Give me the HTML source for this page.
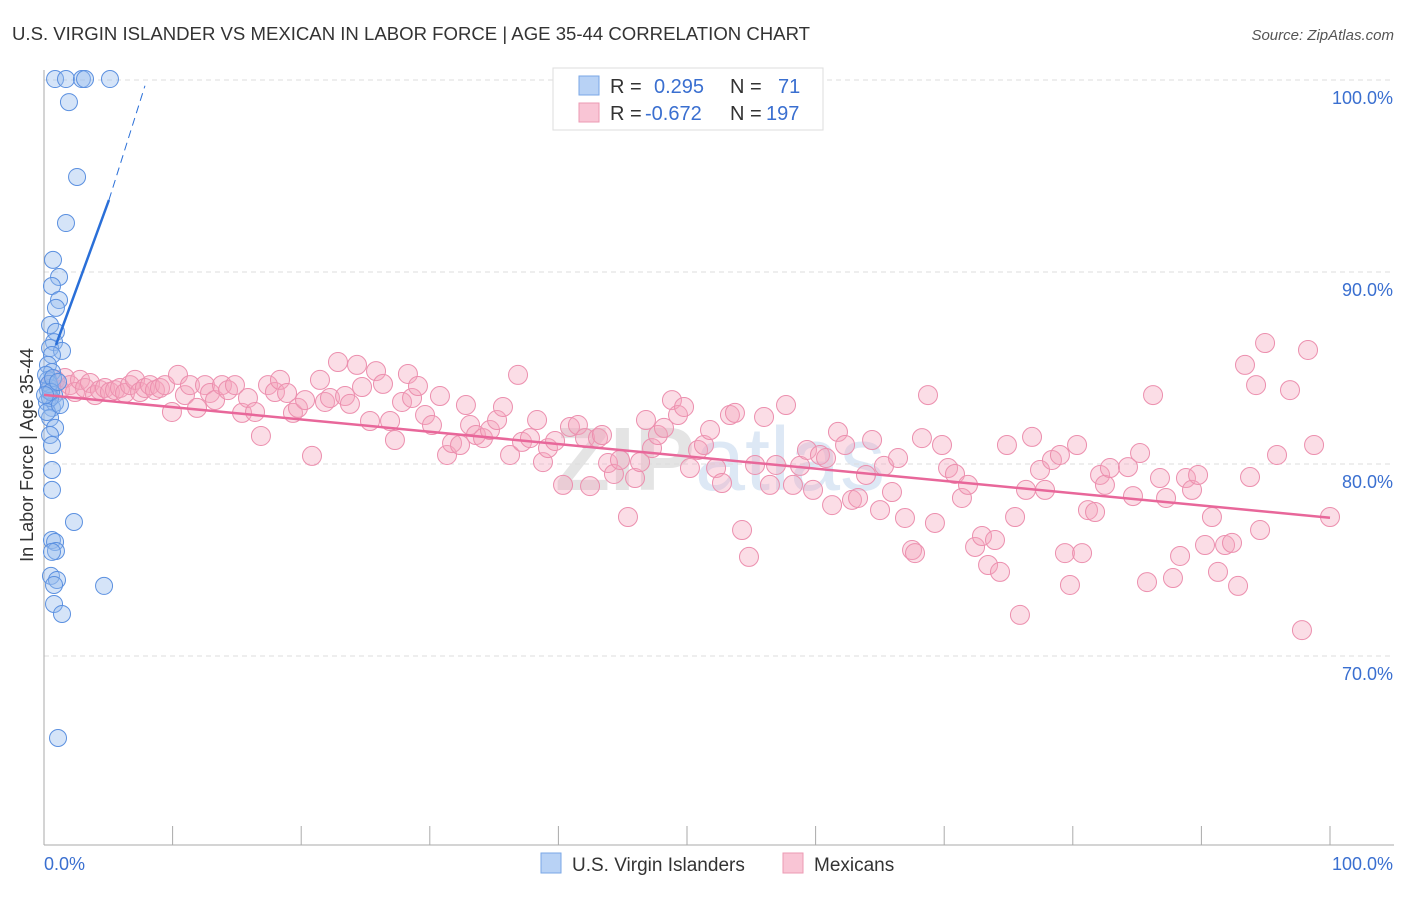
<!DOCTYPE html>
<html><head><meta charset="utf-8"><style>
body{margin:0;background:#fff;font-family:"Liberation Sans",sans-serif}
svg text{font-family:"Liberation Sans",sans-serif}
</style></head><body>
<svg id="c" width="1406" height="892" xmlns="http://www.w3.org/2000/svg">
<text x="12" y="40" font-size="18" fill="#333" textLength="798" lengthAdjust="spacingAndGlyphs">U.S. VIRGIN ISLANDER VS MEXICAN IN LABOR FORCE | AGE 35-44 CORRELATION CHART</text>
<text x="1394" y="40" font-size="15" fill="#555" text-anchor="end" font-style="italic">Source: ZipAtlas.com</text>
<text x="720" y="490" font-size="90" fill="#e4e4e4" text-anchor="middle" font-weight="bold">ZIP<tspan fill="#dde8f5" font-weight="normal">atlas</tspan></text>
<g id="grid"></g>
<g id="pts"></g>
<g id="lines"></g>
<text transform="translate(33,455) rotate(-90)" font-size="18" fill="#333" text-anchor="middle">In Labor Force | Age 35-44</text>
<g>
<rect x="553" y="68" width="270" height="62" fill="#fff" stroke="#ddd"/>
<rect x="579" y="76" width="20" height="19" fill="#b8d2f5" stroke="#7aa7e6"/>
<rect x="579" y="103" width="20" height="19" fill="#f9c5d5" stroke="#ec9ab3"/>
<text x="610" y="93" font-size="20" fill="#333">R = <tspan x="654" fill="#3a6fd0">0.295</tspan><tspan x="730">N = </tspan><tspan x="778" fill="#3a6fd0">71</tspan></text>
<text x="610" y="120" font-size="20" fill="#333">R = <tspan x="645" fill="#3a6fd0">-0.672</tspan><tspan x="730">N = </tspan><tspan x="766" fill="#3a6fd0">197</tspan></text>
</g>
<g>
<rect x="541" y="853" width="20" height="20" fill="#b8d2f5" stroke="#7aa7e6"/>
<text x="572" y="871" font-size="19" fill="#333">U.S. Virgin Islanders</text>
<rect x="783" y="853" width="20" height="20" fill="#f9c5d5" stroke="#ec9ab3"/>
<text x="814" y="871" font-size="19" fill="#333">Mexicans</text>
</g>
</svg>
<script>
const yTicks=[100,90,80,70];
const yTickLabels=["100.0%","90.0%","80.0%","70.0%"];
const xTicks=[0,10,20,30,40,50,60,70,80,90,100];
const xEndLabels=["0.0%","100.0%"];
const bluePx=[[55,79],[66,79],[82,79],[85,79],[110,79],[69,102],[77,177],[66,223],[53,260],[59,277],[52,286],[59,300],[56,308],[50,325],[56,332],[54,342],[50,348],[62,351],[52,355],[48,365],[52,372],[48,380],[50,388],[54,395],[47,402],[52,408],[55,403],[50,418],[55,428],[50,435],[52,445],[52,470],[52,490],[74,522],[52,540],[55,542],[56,551],[52,552],[51,576],[57,580],[54,585],[104,586],[54,604],[62,614],[58,738],[48,390],[50,398],[46,375],[49,384],[53,378],[47,412],[51,392],[58,382],[45,395],[60,405]];
const pinkPx=[[50,385],[55,380],[60,390],[65,378],[70,385],[75,392],[80,380],[85,388],[90,383],[95,395],[100,390],[105,388],[110,392],[115,390],[120,388],[125,393],[130,385],[135,380],[140,392],[145,388],[150,385],[155,390],[160,388],[165,385],[172,412],[178,375],[185,395],[190,385],[197,408],[205,385],[210,393],[215,400],[222,385],[228,390],[235,385],[242,413],[248,398],[255,412],[261,436],[268,385],[275,392],[280,380],[287,393],[293,413],[298,408],[305,400],[312,456],[320,380],[325,402],[330,398],[338,362],[345,396],[350,404],[357,365],[362,387],[370,421],[376,371],[383,384],[390,421],[395,440],[402,402],[408,374],[412,398],[418,386],[425,415],[432,425],[440,396],[447,455],[452,443],[460,445],[466,405],[470,425],[476,435],[483,438],[490,430],[497,420],[503,407],[510,455],[518,375],[522,442],[530,438],[537,420],[543,462],[548,448],[555,441],[563,485],[570,427],[578,425],[585,438],[590,486],[598,438],[602,435],[608,463],[614,474],[620,460],[628,517],[635,478],[640,462],[646,420],[652,448],[658,435],[664,428],[672,400],[678,415],[684,407],[690,468],[698,450],[704,445],[710,430],[716,468],[722,483],[730,415],[735,413],[742,530],[749,557],[755,465],[764,417],[770,485],[776,465],[786,405],[793,485],[800,466],[807,450],[813,490],[820,455],[826,458],[832,505],[838,432],[845,445],[852,500],[858,498],[866,475],[872,440],[880,510],[884,466],[892,492],[898,458],[905,518],[912,550],[915,553],[922,438],[928,395],[935,523],[942,445],[948,468],[955,474],[962,498],[968,485],[975,547],[982,536],[988,565],[995,540],[1000,572],[1007,445],[1015,517],[1020,615],[1026,490],[1032,437],[1040,470],[1045,490],[1052,460],[1060,455],[1065,553],[1070,585],[1077,445],[1082,553],[1088,510],[1095,512],[1100,475],[1105,485],[1110,468],[1128,467],[1133,496],[1140,453],[1147,582],[1153,395],[1160,478],[1166,498],[1173,578],[1180,556],[1186,478],[1192,490],[1198,475],[1205,545],[1212,517],[1218,572],[1225,545],[1232,543],[1238,586],[1245,365],[1250,477],[1256,385],[1260,530],[1265,343],[1277,455],[1290,390],[1302,630],[1308,350],[1314,445],[1330,517]];
const blueX=bluePx.map(p=>+((p[0]-44)/12.86).toFixed(2));
const blueY=bluePx.map(p=>+(100-(p[1]-80)/19.2).toFixed(2));
const pinkX=pinkPx.map(p=>+((p[0]-44)/12.86).toFixed(2));
const pinkY=pinkPx.map(p=>+(100-(p[1]-80)/19.2).toFixed(2));
const blueTrendX=[0.93,5.05,7.85];
const blueTrendY=[86.2,93.75,99.7];
const pinkTrendX=[0,100];
const pinkTrendY=[83.6,77.2];

const X=v=>44+v*12.86;
const Y=v=>80+(100-v)*19.2;
const NS="http://www.w3.org/2000/svg";
function mk(tag,attrs,parent){const e=document.createElementNS(NS,tag);for(const k in attrs)e.setAttribute(k,attrs[k]);parent.appendChild(e);return e;}
const grid=document.getElementById('grid');
yTicks.forEach((t,i)=>{
  const l=mk('line',{x1:44,x2:1394,y1:Y(t),y2:Y(t),stroke:'#ddd','stroke-dasharray':'5,4'},grid);
  
  
  const tx=mk('text',{x:1393,y:Y(t)+24,'font-size':18,fill:'#3a6fd0','text-anchor':'end'},grid);
  tx.textContent=yTickLabels[i];
  
  
});
const ax=mk('line',{x1:44,x2:44,y1:70,y2:845,stroke:'#aaa'},grid);


const bx=mk('line',{x1:44,x2:1394,y1:845,y2:845,stroke:'#aaa'},grid);


xTicks.forEach(t=>{
  const l=mk('line',{x1:X(t),x2:X(t),y1:826,y2:845,stroke:'#aaa'},grid);
  
  
});
const xl0=mk('text',{x:44,y:870,'font-size':18,fill:'#3a6fd0'},grid);xl0.textContent=xEndLabels[0];


const xl1=mk('text',{x:1393,y:870,'font-size':18,fill:'#3a6fd0','text-anchor':'end'},grid);xl1.textContent=xEndLabels[1];



const pts=document.getElementById('pts');
pinkX.forEach((x,i)=>{
  const c=mk('circle',{cx:X(x),cy:Y(pinkY[i]),r:9.5,fill:'rgba(244,165,190,0.38)',stroke:'#ec8fae','stroke-width':1},pts);
  
  
});
blueX.forEach((x,i)=>{
  const c=mk('circle',{cx:X(x),cy:Y(blueY[i]),r:8.5,fill:'rgba(150,188,238,0.4)',stroke:'#5b90e0','stroke-width':1},pts);
  
  
});
const lines=document.getElementById('lines');
const pl=mk('line',{x1:X(pinkTrendX[0]),y1:Y(pinkTrendY[0]),x2:X(pinkTrendX[1]),y2:Y(pinkTrendY[1]),stroke:'#e8679a','stroke-width':2.5},lines);


const b1=mk('line',{x1:X(blueTrendX[0]),y1:Y(blueTrendY[0]),x2:X(blueTrendX[1]),y2:Y(blueTrendY[1]),stroke:'#2a6fd8','stroke-width':2.5},lines);


const b2=mk('line',{x1:X(blueTrendX[1]),y1:Y(blueTrendY[1]),x2:X(blueTrendX[2]),y2:Y(blueTrendY[2]),stroke:'#2a6fd8','stroke-width':1,'stroke-dasharray':'8,5'},lines);


</script>
</body></html>
